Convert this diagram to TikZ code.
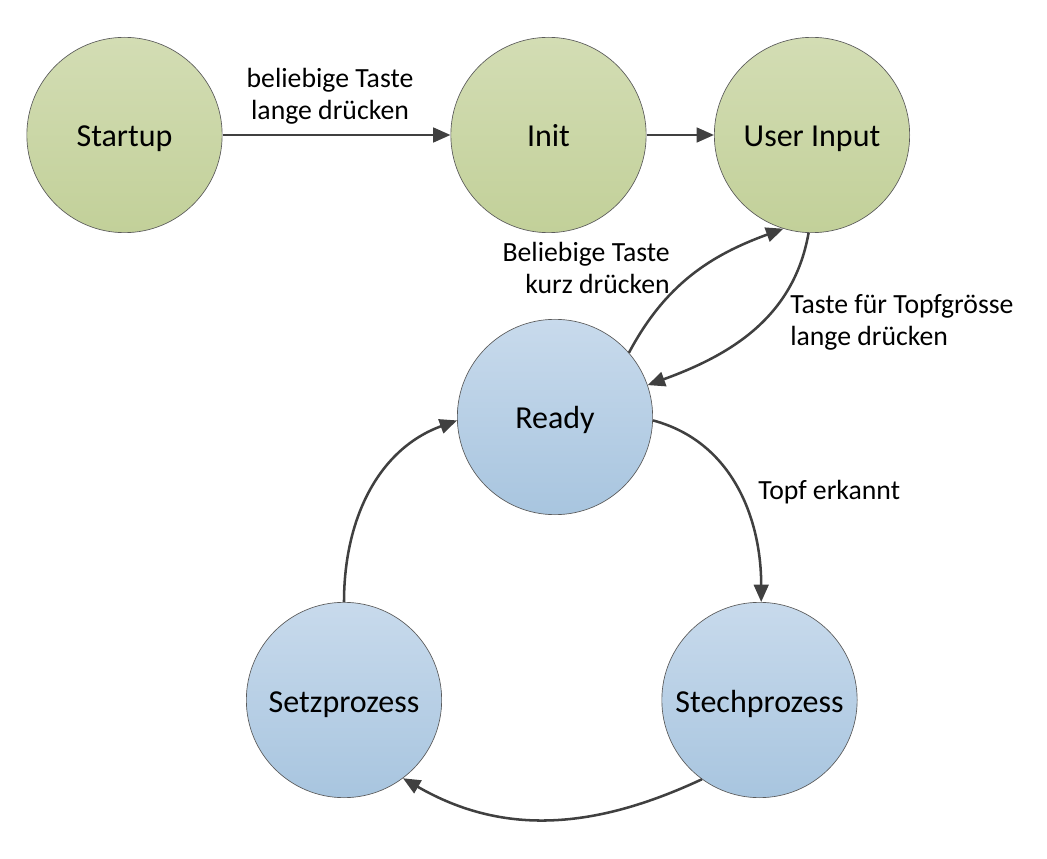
\documentclass[tikz,border=0pt]{standalone}
\usepackage{fontspec}
\setmainfont{Carlito}
\usetikzlibrary{arrows.meta}
\definecolor{gtop}{HTML}{D3DDB4}
\definecolor{gbot}{HTML}{C2D099}
\definecolor{btop}{HTML}{C8DAEC}
\definecolor{bbot}{HTML}{A8C5DF}
\definecolor{edgec}{HTML}{404040}
\definecolor{rimc}{HTML}{5A5A5A}
\tikzset{
  state/.style={circle, draw=rimc, line width=0.5pt, minimum size=146.5pt, inner sep=0pt,
    text height=20pt, text depth=2pt, font=\fontsize{24}{28}\selectfont},
  greenstate/.style={state, top color=gtop, bottom color=gbot},
  bluestate/.style={state, top color=btop, bottom color=bbot},
  conn/.style={draw=edgec, line width=1.9pt, -{Triangle[length=13pt,width=11pt]}},
  lbl/.style={font=\fontsize{20.8}{24}\selectfont, inner sep=0pt}
}
\begin{document}
\begin{tikzpicture}[x=0.75pt,y=-0.75pt]
\useasboundingbox (0,0) rectangle (1047,859);
\node[greenstate] (startup) at (124.5,135) {Startup};
\node[greenstate] (init) at (548.5,135) {Init};
\node[greenstate] (user) at (812,135) {User Input};
\node[bluestate] (ready) at (555,417) {Ready};
\node[bluestate] (setz) at (344,700) {Setzprozess};
\node[bluestate] (stech) at (759.5,700) {Stechprozess};

\draw[conn] (startup) -- (init);
\draw[conn] (init) -- (user);
\draw[conn] (ready.41) to[out=62,in=200] (user.253);
\draw[conn] (user.268) to[out=-100,in=20] (ready.19);
\draw[conn] (ready.358) to[out=-15,in=90] (stech.89);
\draw[conn] (stech.234) to[out=205,in=-30] (setz.307);
\draw[conn] (setz.90) to[out=90,in=200] (ready.182);

\node[lbl, align=center] (l1) at (330,96) {beliebige Taste\\lange drücken};
\node[lbl, align=right, anchor=east] (l2) at (670,268) {Beliebige Taste\\kurz drücken};
\node[lbl, align=left, anchor=west] (l3) at (790,322) {Taste für Topfgrösse\\lange drücken};
\node[lbl, anchor=west] (l4) at (758,492) {Topf erkannt};
\end{tikzpicture}
\end{document}
